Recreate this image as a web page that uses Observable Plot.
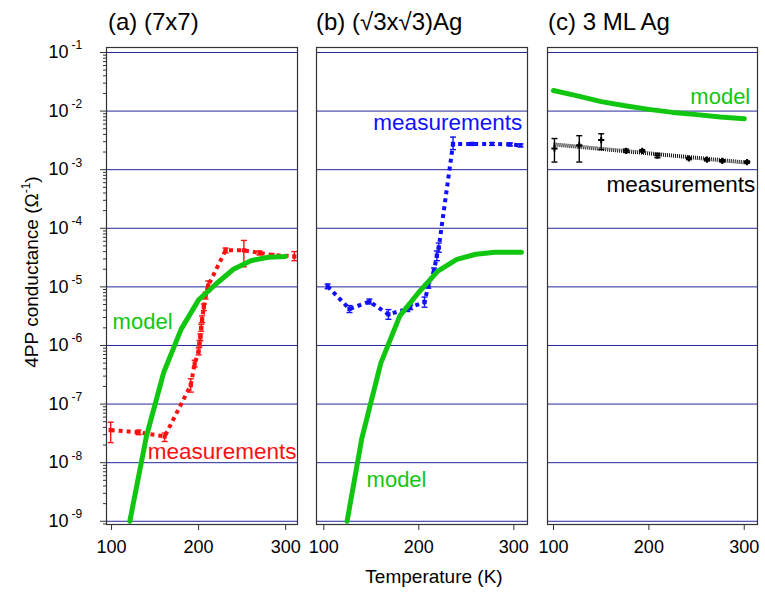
<!DOCTYPE html>
<html><head><meta charset="utf-8">
<script src="https://cdn.jsdelivr.net/npm/d3@7"></script>
<script src="https://cdn.jsdelivr.net/npm/@observablehq/plot@0.6"></script>
<style>
body{margin:0;background:#fff;}
#wrap{position:relative;width:765px;height:592px;font-family:"Liberation Sans",Arial,Helvetica,sans-serif;color:#000;overflow:hidden;}
.pl{position:absolute;top:0;}
.pl svg{overflow:visible;}
.title{position:absolute;top:8px;font-size:24px;line-height:28px;white-space:nowrap;}
.ylab{position:absolute;left:31px;top:272px;font-size:19px;white-space:nowrap;transform:translate(-50%,-50%) rotate(-90deg);}
.ylab sup{font-size:12px;}
.xlab{position:absolute;left:434px;top:577px;font-size:19px;white-space:nowrap;transform:translate(-50%,-50%);}
</style></head>
<body><div id="wrap">
<div class="title" style="left:108px">(a) (7x7)</div>
<div class="title" style="left:316px">(b) (√3x√3)Ag</div>
<div class="title" style="left:548px">(c) 3 ML Ag</div>
<div class="ylab">4PP conductance (Ω<sup>-1</sup>)</div>
<div class="xlab">Temperature (K)</div>
</div>
<script>
// ---- tick data ----
const decades = [1e-9,1e-8,1e-7,1e-6,1e-5,1e-4,1e-3,1e-2,1e-1];
const decadeExp = ["-9","-8","-7","-6","-5","-4","-3","-2","-1"];
const xTicks = [100,200,300];

// ---- panel (a) 7x7 ----
const aModelT = [121,140,160,180,200,220,240,260,280,300];
const aModelG = [1e-9,2.8e-8,3.5e-7,1.9e-6,6.0e-6,1.12e-5,2.0e-5,2.8e-5,3.2e-5,3.3e-5];
const aMeasT  = [99,131,161,191,195.5,200,201,202,203,204,206,208,211,231,252,270,284,310];
const aMeasG  = [3.6e-8,3.3e-8,2.8e-8,2.1e-7,4.9e-7,7.9e-7,1.07e-6,1.38e-6,2.0e-6,2.8e-6,4.5e-6,7.1e-6,1.05e-5,4.2e-5,4.2e-5,3.8e-5,3.5e-5,3.3e-5];
const aMeasLo = [2.2e-8,3.0e-8,2.3e-8,1.6e-7,4.3e-7,6.9e-7,9.4e-7,1.2e-6,1.75e-6,2.45e-6,3.95e-6,6.2e-6,8.3e-6,3.8e-5,2.2e-5,3.5e-5,3.3e-5,2.8e-5];
const aMeasHi = [4.9e-8,3.6e-8,3.2e-8,2.7e-7,5.6e-7,9.1e-7,1.22e-6,1.58e-6,2.3e-6,3.2e-6,5.1e-6,8.1e-6,1.26e-5,4.6e-5,6.2e-5,4.1e-5,3.7e-5,4.0e-5];

// ---- panel (b) sqrt3 x sqrt3 Ag ----
const bModelT = [124.5,140,160,180,200,220,240,260,280,308];
const bModelG = [1e-9,2.6e-8,5.0e-7,3.2e-6,8.1e-6,1.86e-5,2.95e-5,3.6e-5,3.9e-5,3.9e-5];
const bMeasT  = [104,127,148,168,188,191,206,210,216,219,221,236,256,277,296,307];
const bMeasG  = [1.02e-5,4.2e-6,5.6e-6,3.4e-6,4.2e-6,4.5e-6,5.5e-6,1.05e-5,1.9e-5,3.4e-5,4.7e-5,2.75e-3,2.75e-3,2.75e-3,2.7e-3,2.6e-3];
const bMeasLo = [9.3e-6,3.65e-6,5.1e-6,2.8e-6,3.8e-6,4.1e-6,4.5e-6,9.5e-6,1.7e-5,2.8e-5,3.9e-5,2.2e-3,2.6e-3,2.6e-3,2.55e-3,2.45e-3];
const bMeasHi = [1.12e-5,4.8e-6,6.2e-6,4.1e-6,4.6e-6,4.9e-6,6.7e-6,1.16e-5,2.1e-5,4.1e-5,5.6e-5,3.6e-3,2.9e-3,2.9e-3,2.85e-3,2.75e-3];

// ---- panel (c) 3 ML Ag ----
const cModelT = [100,125,150,175,200,225,250,275,300];
const cModelG = [2.24e-2,1.82e-2,1.45e-2,1.23e-2,1.07e-2,9.5e-3,8.7e-3,7.9e-3,7.4e-3];
const cMeasT  = [101,127,150,176,193,209,242,261,277,303];
const cMeasG  = [2.3e-3,2.6e-3,3.2e-3,2.1e-3,2.1e-3,1.74e-3,1.55e-3,1.48e-3,1.41e-3,1.35e-3];
const cMeasLo = [1.35e-3,1.35e-3,2.2e-3,1.97e-3,2.0e-3,1.6e-3,1.48e-3,1.41e-3,1.35e-3,1.29e-3];
const cMeasHi = [3.4e-3,3.8e-3,4.1e-3,2.25e-3,2.2e-3,1.88e-3,1.62e-3,1.55e-3,1.48e-3,1.41e-3];
const cFitT = [100,303];
const cFitG = [2.7e-3,1.32e-3];

// ---- helpers ----
const FONT = '"Liberation Sans", Arial, Helvetica, sans-serif';
const GREEN = "#11c611", RED = "#ff1010", BLUE = "#1010ff", GRID = "#26269c";
const yDomain = [Math.pow(10,-9.055), Math.pow(10,-0.915)];
const minor = [9e-10];
decades.slice(0,8).forEach(d => { for (let k=2;k<=9;k++) minor.push(k*d); });
const capSym = {draw(ctx, size){ const r = Math.sqrt(size/Math.PI); ctx.moveTo(-r,0); ctx.lineTo(r,0); }};
const rows = (T,G,lo,hi) => T.map((t,i)=>({T:t, G:G[i], lo: lo?lo[i]:null, hi: hi?hi[i]:null}));

function measMarks(data, color, symbol, r){
  return [
    Plot.ruleX(data, {x:"T", y1:"lo", y2:"hi", stroke: color, strokeWidth: 1.4}),
    Plot.dot(data, {x:"T", y:"lo", symbol: capSym, r: 3, stroke: color, strokeWidth: 1.4, fill: "none"}),
    Plot.dot(data, {x:"T", y:"hi", symbol: capSym, r: 3, stroke: color, strokeWidth: 1.4, fill: "none"}),
    Plot.dot(data, {x:"T", y:"G", symbol, r, fill: color, stroke: "none"})
  ];
}

function makePanel(cfg){
  const marks = [
    Plot.ruleY(decades, {stroke: GRID, strokeWidth: 1}),
    ...cfg.marks,
    Plot.frame({stroke: "#333", strokeWidth: 1.2}),
    Plot.axisX(xTicks, {tickSize: 6, tickPadding: 10, label: null, stroke: "#333"})
  ];
  if (cfg.yAxis) {
    marks.push(
      Plot.axisY(decades, {anchor: "left", tickSize: 6, tickFormat: () => "", label: null, stroke: "#333"}),
      Plot.axisY(minor, {anchor: "left", tickSize: 3, tickFormat: () => "", label: null, stroke: "#333"}),
      Plot.text(decades, {y: d => d, frameAnchor: "left", dx: -38, textAnchor: "end", lineAnchor: "middle", text: () => "10", fontSize: 18}),
      Plot.text(decades, {y: d => d, frameAnchor: "left", dx: -35, dy: -7, textAnchor: "start", lineAnchor: "middle", text: (d,i) => decadeExp[i], fontSize: 12})
    );
  }
  const p = Plot.plot({
    width: cfg.width, height: 560,
    marginLeft: cfg.mL, marginRight: cfg.mR, marginTop: 47, marginBottom: 36,
    x: {type: "linear", domain: cfg.xDomain, axis: null},
    y: {type: "log", domain: yDomain, axis: null},
    style: {fontSize: "18px", fontFamily: FONT, background: "transparent", overflow: "visible"},
    marks
  });
  const holder = document.createElement("div");
  holder.className = "pl";
  holder.style.left = cfg.left + "px";
  holder.appendChild(p);
  document.getElementById("wrap").appendChild(holder);
}

const dotted = {strokeWidth: 4, strokeDasharray: "4 4", strokeLinecap: "butt", strokeLinejoin: "miter"};

// panel a
const aMeas = rows(aMeasT, aMeasG, aMeasLo, aMeasHi);
const aModel = rows(aModelT, aModelG);
makePanel({
  left: 0, width: 300, mL: 106, mR: 3, xDomain: [94.2, 313.6], yAxis: true,
  marks: [
    Plot.line(aMeas, {x:"T", y:"G", stroke: RED, ...dotted}),
    ...measMarks(aMeas, RED, "square", 2.4),
    Plot.line(aModel, {x:"T", y:"G", stroke: GREEN, strokeWidth: 5, clip: true}),
    Plot.text(["model"], {x: 101.2, y: 2.5e-6, text: d => d, textAnchor: "start", lineAnchor: "middle", fill: GREEN, fontSize: 22}),
    Plot.text(["measurements"], {x: 312.4, y: 1.51e-8, text: d => d, textAnchor: "end", lineAnchor: "middle", fill: RED, fontSize: 22.5})
  ]
});

// panel b
const bMeas = rows(bMeasT, bMeasG, bMeasLo, bMeasHi);
const bModel = rows(bModelT, bModelG);
makePanel({
  left: 300, width: 230, mL: 16, mR: 3, xDomain: [92.3, 314.4],
  marks: [
    Plot.line(bMeas, {x:"T", y:"G", stroke: BLUE, ...dotted}),
    ...measMarks(bMeas, BLUE, "square", 2.4),
    Plot.line(bModel, {x:"T", y:"G", stroke: GREEN, strokeWidth: 5, clip: true}),
    Plot.text(["measurements"], {x: 308.8, y: 6.2e-3, text: d => d, textAnchor: "end", lineAnchor: "middle", fill: BLUE, fontSize: 22.5}),
    Plot.text(["model"], {x: 145, y: 5.0e-9, text: d => d, textAnchor: "start", lineAnchor: "middle", fill: GREEN, fontSize: 22})
  ]
});

// panel c
const cMeas = rows(cMeasT, cMeasG, cMeasLo, cMeasHi);
const cModel = rows(cModelT, cModelG);
const cFit = rows(cFitT, cFitG);
makePanel({
  left: 530, width: 235, mL: 17, mR: 8, xDomain: [93.7, 313.9],
  marks: [
    Plot.line(cFit, {x:"T", y:"G", stroke: "#111", strokeWidth: 4, strokeDasharray: "1 1", strokeLinecap: "butt"}),
    ...measMarks(cMeas, "#000", "cross", 2.6),
    Plot.line(cModel, {x:"T", y:"G", stroke: GREEN, strokeWidth: 5}),
    Plot.text(["model"], {x: 306.3, y: 1.73e-2, text: d => d, textAnchor: "end", lineAnchor: "middle", fill: GREEN, fontSize: 22}),
    Plot.text(["measurements"], {x: 311.5, y: 5.6e-4, text: d => d, textAnchor: "end", lineAnchor: "middle", fill: "#000", fontSize: 22.5})
  ]
});
</script>
</body></html>
